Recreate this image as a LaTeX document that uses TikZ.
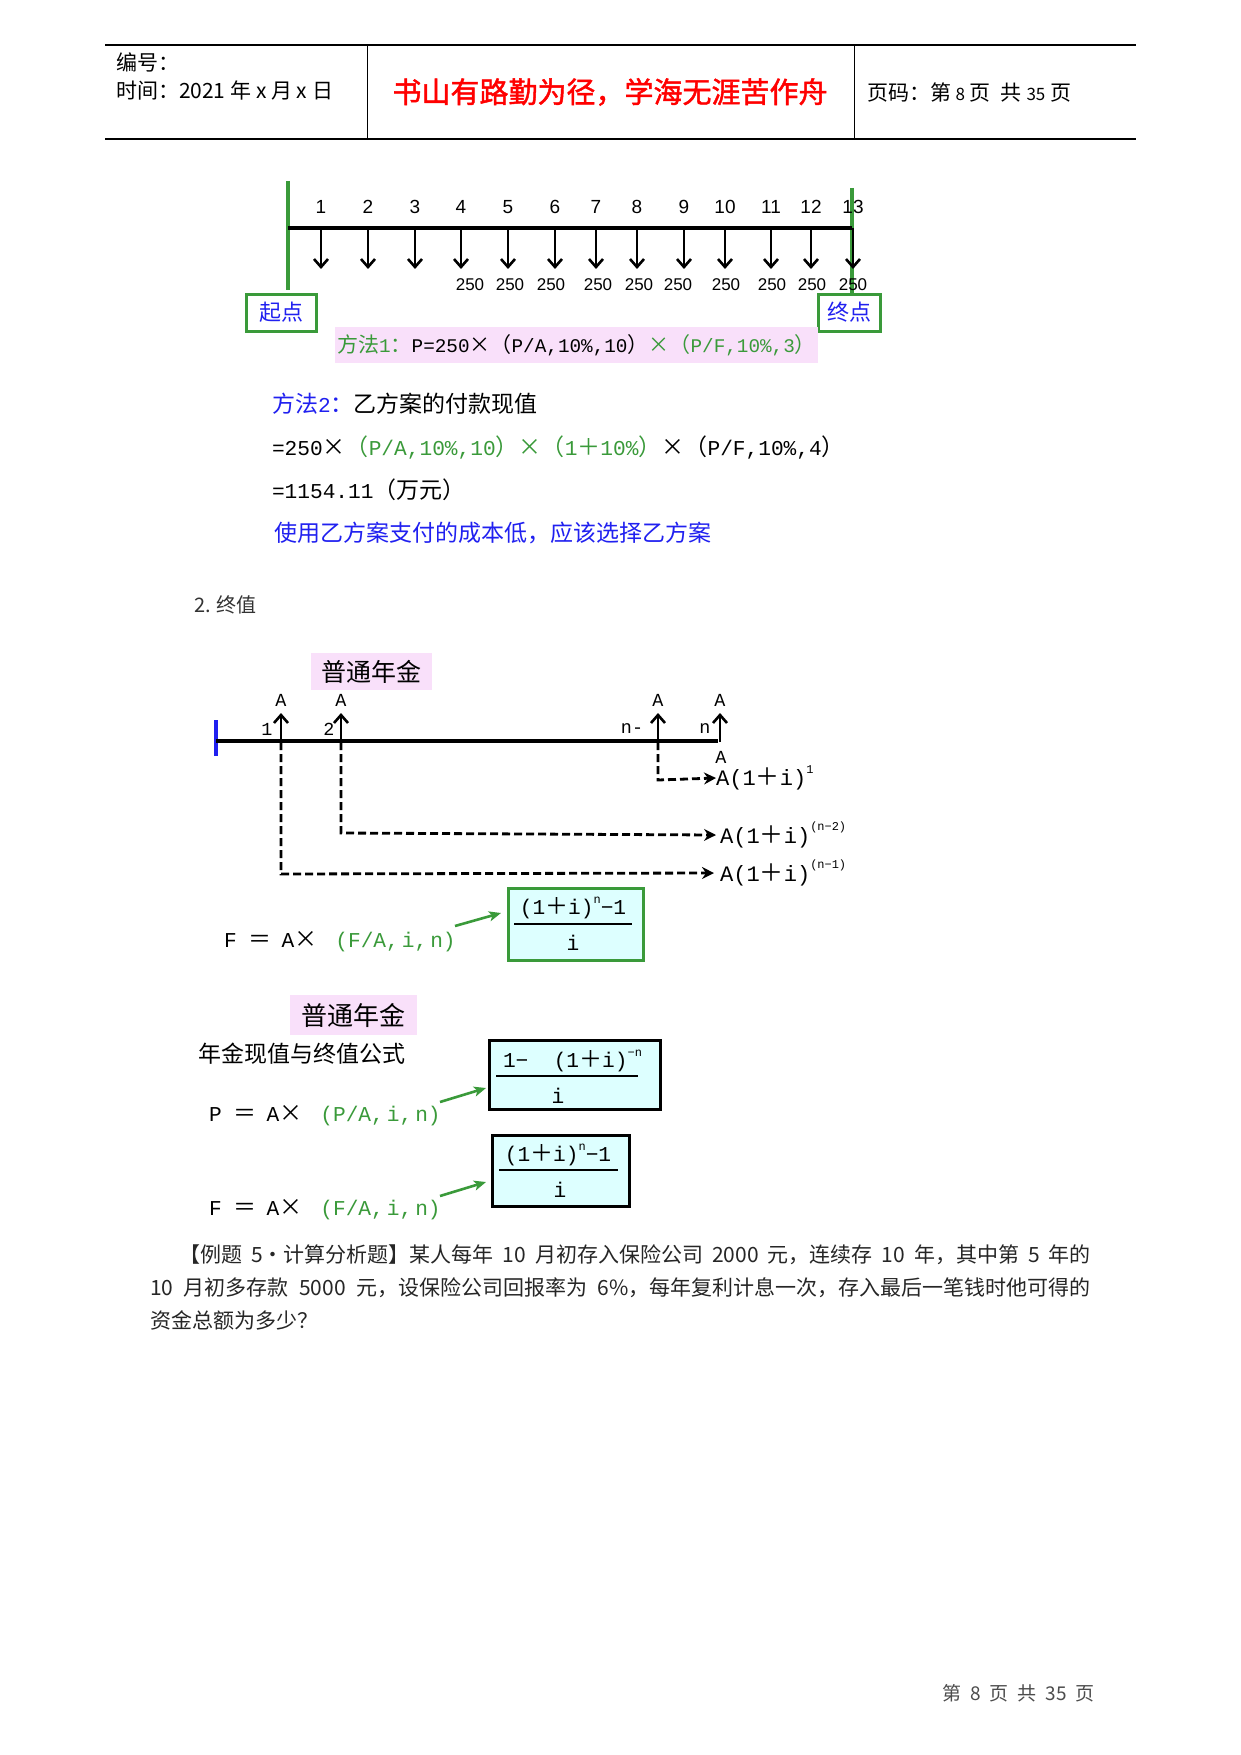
\documentclass[tikz,border=0pt]{standalone}
\usepackage{fontspec}
\setmainfont{Noto Sans CJK SC}
\newfontfamily\cjk{Noto Sans CJK SC}
\newfontfamily\mono[Scale=0.92]{Liberation Mono}
\newfontfamily\lsans{Liberation Sans}
\newfontfamily\cjkb[FakeBold=1.6]{Noto Sans CJK SC}
\usetikzlibrary{arrows.meta}
\definecolor{gr}{HTML}{3A9A3A}
\definecolor{pk}{HTML}{F9E0FA}
\definecolor{cy}{HTML}{DDFFFF}
\definecolor{bl}{HTML}{2020F0}
\definecolor{rd}{HTML}{FF0000}
\newcommand\fs[1]{\fontsize{#1}{#1}\selectfont}
\newcommand\m[1]{{\mono #1}}
\newcommand\pl{{\cjk ＋}}
\newcommand\sups[1]{\raisebox{0.55em}{\fontsize{6.5pt}{6.5pt}\selectfont\mono #1}}
\newcommand\fml[2]{\m{#1}\hspace{6pt}＝\hspace{5pt}\m{A}×\hspace{9pt}{\color{gr}\m{(#2,}\hspace{1.5pt}\m{i,}\hspace{1.5pt}\m{n)}}}
\tikzset{
  txt/.style={inner sep=0pt, outer sep=0pt},
  hdr/.style={txt, font=\fs{10.5pt}},
  num/.style={txt, font=\lsans\fs{9.5pt}},
  vnum/.style={txt, font=\lsans\fs{8.5pt}},
  mtxt/.style={txt, font=\fs{11.5pt}},
  glab/.style={txt, font=\mono\fs{12pt}},
  alab/.style={txt, font=\mono\fs{10pt}},
  downarr/.style={line width=1.3pt, -{Straight Barb[length=4pt,width=7pt]}},
  uparr/.style={line width=1.3pt, -{Straight Barb[length=4pt,width=7pt]}},
  dasharr/.style={line width=1.4pt, dash pattern=on 4pt off 2pt, -{Stealth[length=6pt,width=6pt,inset=2pt]}},
  garr/.style={gr, line width=1.3pt, -{Stealth[length=6pt,width=5pt,inset=1.5pt]}},
  pinkbox/.style={fill=pk, inner sep=0pt},
  frbox/.style={fill=cy, line width=1.5pt, inner sep=0pt},
  frac/.style={txt, font=\mono\fs{11.5pt}},
  ftxt/.style={txt, font=\fs{11.5pt}},
}
\begin{document}
\begin{tikzpicture}[x=0.5pt, y=-0.5pt]
\fill[white] (0,0) rectangle (1241,1755);
\useasboundingbox (0,0) rectangle (1241,1755);

% ---------- header ----------
\draw[line width=0.6pt] (105,45) -- (1136,45);
\draw[line width=0.6pt] (105,139) -- (1136,139);
\draw[line width=0.5pt] (367,45) -- (367,139);
\draw[line width=0.5pt] (854,45) -- (854,139);
\node[hdr, anchor=west] (hno) at (116,62) {编号：};
\node[hdr, anchor=west] (htime) at (116,90) {时间：2021 年 x 月 x 日};
\node[txt, anchor=center, text=rd, font=\cjkb\fs{14.5pt}] (htitle) at (610,92) {书山有路勤为径，学海无涯苦作舟};
\node[hdr, anchor=west] (hpage) at (867,93) {页码：第 {\fs{8.5pt}8} 页\hspace{5pt}共 {\fs{8.5pt}35} 页};

% ---------- timeline 1 ----------
\coordinate (gl1) at (288,181); \coordinate (gl2) at (288,290);
\coordinate (gr1) at (852,188); \coordinate (gr2) at (852,295);
\draw[gr, line width=1.6pt] (gl1) -- (gl2);
\draw[gr, line width=1.6pt] (gr1) -- (gr2);
\coordinate (ax1) at (288,228); \coordinate (ax2) at (852,228);
\draw[line width=1.6pt] (ax1) -- (ax2);
\foreach \x [count=\i] in {321,368,415,461,508,555,596,637,684,725,771,811,853} {
  \coordinate (ta\i) at (\x,228);
  \coordinate (tb\i) at (\x,269);
  \draw[downarr] (ta\i) -- (tb\i);
  \node[num] (nl\i) at (\x,207) {\i};
}
\foreach \x [count=\i] in {470,510,551,598,639,678,726,772,812,853} {
  \node[vnum] (v\i) at (\x,285) {250};
}
\node[draw=gr, line width=1.5pt, fill=white, minimum width=35pt, minimum height=18.5pt, inner sep=0pt, text=bl, font=\fs{11pt}] (start) at (281,312.5) {起点};
\node[draw=gr, line width=1.5pt, fill=white, minimum width=31pt, minimum height=18.5pt, inner sep=0pt, text=bl, font=\fs{11pt}] (end) at (849,312.5) {终点};
\node[pinkbox, minimum width=241.5pt, minimum height=18pt, font=\fs{10.5pt}] (meth1) at (576.5,345)
  {{\color{gr}方法\m{1}：}\m{P=250}×（\m{P/A,10\%,10}）{\color{gr}×（\m{P/F,10\%,3}）}};

% ---------- method 2 ----------
\node[mtxt, anchor=west] (m2a) at (272,404) {{\color{bl}方法\m{2}：}乙方案的付款现值};
\node[mtxt, anchor=west] (m2b) at (272,448) {\m{=250}×{\color{gr}（\m{P/A,10\%,10}）×（\m{1}＋\m{10\%}）}×（\m{P/F,10\%,4}）};
\node[mtxt, anchor=west] (m2c) at (272,490) {\m{=1154.11}（万元）};
\node[mtxt, anchor=west, text=bl] (m2d) at (274,533) {使用乙方案支付的成本低，应该选择乙方案};

\node[txt, anchor=west, font=\fs{10pt}, text=black!80] (sec2) at (194,605) {2. 终值};

% ---------- timeline 2 ----------
\node[pinkbox, minimum width=60.5pt, minimum height=18.5pt, font=\fs{12.5pt}] (pt1) at (371.5,671.5) {普通年金};
\coordinate (bb1) at (216,720); \coordinate (bb2) at (216,756);
\draw[bl, line width=1.6pt] (bb1) -- (bb2);
\coordinate (ax3) at (216,741); \coordinate (ax4) at (718,741);
\draw[line width=1.6pt] (ax3) -- (ax4);
\foreach \x [count=\i] in {281,341,658,720} {
  \coordinate (ua\i) at (\x,742);
  \coordinate (ub\i) at (\x,713);
  \draw[uparr] (ua\i) -- (ub\i);
  \node[alab] (al\i) at (\x,700) {A};
}
\node[alab] (k1) at (267,729) {1};
\node[alab] (k2) at (329,729) {2};
\node[alab] (k3) at (632,729) {n-};
\node[alab] (k4) at (705,729) {n};
\node[alab] (abelow) at (721,757) {A};
\node[glab, anchor=west] (r1) at (716,778) {A(1\pl i)\sups{1}};
\node[glab, anchor=west] (r2) at (720,835) {A(1\pl i)\sups{(n−2)}};
\node[glab, anchor=west] (r3) at (720,873) {A(1\pl i)\sups{(n−1)}};
\coordinate (d1a) at (658,742); \coordinate (d1b) at (658,780);
\coordinate (d2a) at (341,742); \coordinate (d2b) at (341,833);
\coordinate (d3a) at (281,742); \coordinate (d3b) at (281,874);
\draw[dasharr] (d1a) -- (d1b) -- (r1.west);
\draw[dasharr] (d2a) -- (d2b) -- ([xshift=-2pt]r2.west);
\draw[dasharr] (d3a) -- (d3b) -- ([xshift=-3pt]r3.west);

% formula F 1
\node[ftxt, anchor=west] (f1) at (224,942) {\fml{F}{F/A}};
\node[frbox, draw=gr, minimum width=67.5pt, minimum height=36pt] (box1) at (575.5,924) {};
\node[frac] (b1n) at (573,908) {(1\pl i)\sups{n}−1};
\node[frac] (b1d) at (573,943) {i};
\coordinate (b1r1) at (514,924); \coordinate (b1r2) at (632,924);
\draw[line width=1.3pt] (b1r1) -- (b1r2);
\coordinate (g1s) at (455,926); \coordinate (g1e) at (501,913);
\draw[garr] (g1s) -- (g1e);

% ---------- second block ----------
\node[pinkbox, minimum width=63.5pt, minimum height=20pt, font=\fs{13pt}] (pt2) at (353.5,1015) {普通年金};
\node[mtxt, anchor=west] (fml) at (198,1054) {年金现值与终值公式};
\node[frbox, draw=black, minimum width=85.5pt, minimum height=34.5pt] (box2) at (574.5,1074.5) {};
\node[frac, anchor=west] (b2n) at (503,1061) {1− \ (1\pl i)\sups{−n}};
\node[frac] (b2d) at (558,1096) {i};
\coordinate (b2r1) at (496,1076); \coordinate (b2r2) at (638,1076);
\draw[line width=1.3pt] (b2r1) -- (b2r2);
\node[ftxt, anchor=west] (fp) at (209,1116) {\fml{P}{P/A}};
\coordinate (g2s) at (440,1102); \coordinate (g2e) at (486,1088);
\draw[garr] (g2s) -- (g2e);

\node[frbox, draw=black, minimum width=68.5pt, minimum height=35.5pt] (box3) at (560.5,1170.5) {};
\node[frac] (b3n) at (558,1155) {(1\pl i)\sups{n}−1};
\node[frac] (b3d) at (560,1190) {i};
\coordinate (b3r1) at (499,1170); \coordinate (b3r2) at (618,1170);
\draw[line width=1.3pt] (b3r1) -- (b3r2);
\node[ftxt, anchor=west] (ff) at (209,1210) {\fml{F}{F/A}};
\coordinate (g3s) at (440,1196); \coordinate (g3e) at (486,1182);
\draw[garr] (g3s) -- (g3e);

% ---------- paragraph ----------
\node[txt, anchor=west, font=\fs{10.5pt}, text=black!85] (p1) at (179,1255)
  {\makebox[456pt][s]{【例题 5・计算分析题】某人每年 10 月初存入保险公司 2000 元，连续存 10 年，其中第 5 年的}};
\node[txt, anchor=west, font=\fs{10.5pt}, text=black!85] (p2) at (150,1288)
  {\makebox[470.5pt][s]{10 月初多存款 5000 元，设保险公司回报率为 6\%，每年复利计息一次，存入最后一笔钱时他可得的}};
\node[txt, anchor=west, font=\fs{10.5pt}, text=black!85] (p3) at (150,1320) {资金总额为多少？};

% ---------- footer ----------
\node[txt, anchor=west, font=\fs{9.5pt}, text=black!70] (foot) at (942,1693) {第\hspace{4.5pt}8\hspace{4.5pt}页\hspace{4.5pt}共\hspace{4.5pt}35\hspace{4.5pt}页};
\end{tikzpicture}
\end{document}
